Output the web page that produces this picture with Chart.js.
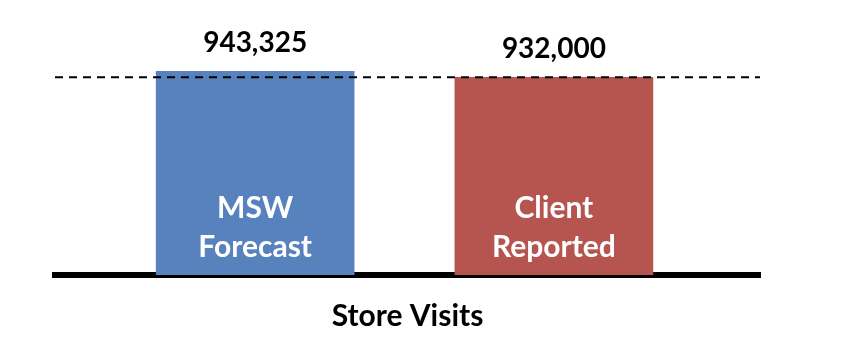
<!DOCTYPE html>
<html>
<head>
<meta charset="utf-8">
<script src="https://cdn.jsdelivr.net/npm/chart.js@4.4.0/dist/chart.umd.min.js"></script>
<style>
  html, body { margin: 0; padding: 0; background: #fff; }
</style>
</head>
<body>
<canvas id="ch" width="848" height="346"></canvas>
<script>
// data
const categories = [['MSW', 'Forecast'], ['Client', 'Reported']];
const positions  = [0, 1];
const visits     = [943325, 932000];
const barColors  = ['#5882bd', '#b65550'];
const axisTitle  = 'Store Visits';
const refValue   = 932000;

// axis window (bars don't start at zero in the original)
const xMin = -0.67, xMax = 1.69;
const yMin = 576600, yMax = 943325;

const FONT = 'Lato, "Open Sans", sans-serif';
const fmt = n => n.toLocaleString('en-US');

// value above each bar + white name inside it
const barLabels = {
  id: 'barLabels',
  afterDatasetsDraw(chart) {
    const ctx = chart.ctx;
    const meta = chart.getDatasetMeta(1);
    const base = chart.scales.y.getPixelForValue(yMin);
    ctx.save();
    ctx.textAlign = 'center';
    ctx.textBaseline = 'middle';
    meta.data.forEach((bar, i) => {
      const { x, y } = bar.getProps(['x', 'y'], true);
      ctx.fillStyle = '#000';
      ctx.font = 'bold 28px ' + FONT;
      ctx.fillText(fmt(visits[i]), x, y - 28);
      ctx.fillStyle = '#fff';
      ctx.font = 'bold 30px ' + FONT;
      categories[i].forEach((line, j) => {
        ctx.fillText(line, x, base - 67 + j * 39);
      });
    });
    ctx.restore();
  }
};

new Chart(document.getElementById('ch'), {
  type: 'bar',
  data: {
    datasets: [
      {
        type: 'line',
        data: [{ x: xMin, y: refValue }, { x: xMax, y: refValue }],
        borderColor: '#000',
        borderWidth: 2,
        borderDash: [8, 6],
        pointRadius: 0,
        fill: false,
        order: 0,
      },
      {
        type: 'bar',
        data: positions.map((x, i) => ({ x, y: visits[i] })),
        backgroundColor: barColors,
        barThickness: 198,
        order: 1,
      },
    ],
  },
  options: {
    responsive: false,
    animation: false,
    layout: { padding: { top: 71, left: 55, right: 88, bottom: 4 } },
    plugins: { legend: { display: false }, tooltip: { enabled: false } },
    scales: {
      x: {
        type: 'linear',
        offset: false,
        min: xMin, max: xMax,
        ticks: { display: false },
        grid: { display: false, drawTicks: false },
        border: { display: true, color: '#000', width: 6 },
        title: {
          display: true,
          text: axisTitle,
          color: '#000',
          font: { family: FONT, size: 30, weight: 'bold' },
          padding: { top: 23, bottom: 8 },
        },
      },
      y: { display: false, min: yMin, max: yMax },
    },
  },
  plugins: [barLabels],
});
</script>
</body>
</html>
